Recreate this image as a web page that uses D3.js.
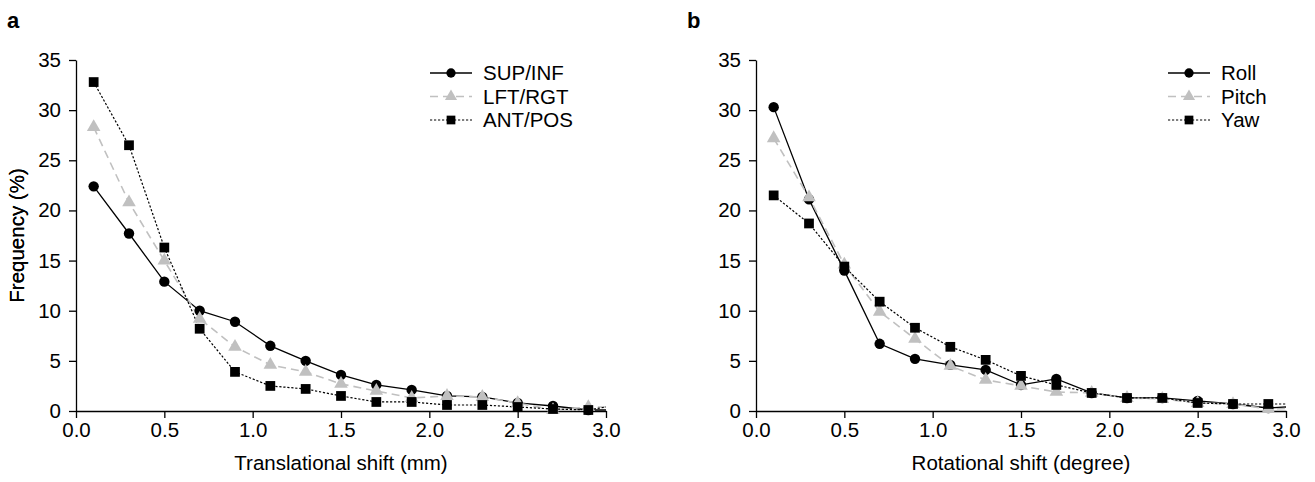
<!DOCTYPE html>
<html>
<head>
<meta charset="utf-8">
<script src="https://cdn.jsdelivr.net/npm/d3@7"></script>
<style>
  body { margin: 0; background: #fff; }
  svg { font-family: "Liberation Sans", Arial, sans-serif; }
</style>
</head>
<body>
<div id="chart"></div>
<script>
// x positions of the bins (the last one lies past the axis end and is clipped)
const shifts = [0.1, 0.3, 0.5, 0.7, 0.9, 1.1, 1.3, 1.5, 1.7, 1.9, 2.1, 2.3, 2.5, 2.7, 2.9, 3.1];
const xTicks = [0, 0.5, 1, 1.5, 2, 2.5, 3];
const yTicks = [0, 5, 10, 15, 20, 25, 30, 35];

// panel a: translational
const supInf = [22.4, 17.7, 12.9, 10.0, 8.9, 6.5, 5.0, 3.6, 2.6, 2.1, 1.5, 1.4, 0.8, 0.5, 0.1, 0.1];
const lftRgt = [28.3, 20.8, 15.0, 9.2, 6.4, 4.6, 3.9, 2.7, 2.0, 1.3, 1.5, 1.4, 0.8, 0.1, 0.4, 0.4];
const antPos = [32.8, 26.5, 16.3, 8.2, 3.9, 2.5, 2.2, 1.5, 0.9, 0.9, 0.6, 0.6, 0.4, 0.2, 0.1, 0.7];

// panel b: rotational
const roll  = [30.3, 21.1, 14.0, 6.7, 5.2, 4.6, 4.1, 2.6, 3.2, 1.8, 1.3, 1.3, 1.0, 0.7, 0.3, 0.5];
const pitch = [27.2, 21.3, 14.6, 9.9, 7.2, 4.5, 3.1, 2.5, 1.9, 1.8, 1.3, 1.2, 0.8, 0.7, 0.2, 0.3];
const yaw   = [21.5, 18.7, 14.4, 10.9, 8.3, 6.4, 5.1, 3.5, 2.6, 1.8, 1.3, 1.3, 0.8, 0.7, 0.7, 0.7];

const styles = [
    {stroke: "#000", dash: null, width: 1.3, symbol: d3.symbolCircle, size: 85, fill: "#000"},
    {stroke: "#c0c0c0", dash: "8,5", width: 1.6, symbol: d3.symbolTriangle, size: 80, fill: "#c0c0c0"},
    {stroke: "#000", dash: "2.2,1.8", width: 1.2, symbol: d3.symbolSquare, size: 95, fill: "#000"}
];

const fontSize = "20.5px";
const W = 1315, H = 482;
const svg = d3.select("#chart").append("svg")
    .attr("width", W).attr("height", H);

function drawPanel(opt) {
    const width = 530, height = 351;
    const g = svg.append("g")
        .attr("transform", `translate(${opt.left},60)`);

    const x = d3.scaleLinear().domain([0, 3]).range([0, width]);
    const y = d3.scaleLinear().domain([0, 35]).range([height, 0]);

    const xAxis = g.append("g")
        .attr("transform", `translate(0,${height})`)
        .call(d3.axisBottom(x).tickValues(xTicks).tickFormat(d3.format(".1f")).tickSize(7).tickSizeOuter(0).tickPadding(4));
    const yAxis = g.append("g")
        .call(d3.axisLeft(y).tickValues(yTicks).tickSize(7).tickSizeOuter(0).tickPadding(8));
    [xAxis, yAxis].forEach(a => {
        a.selectAll("text").style("font-size", fontSize).attr("fill", "#000");
        a.selectAll("line, path").attr("stroke", "#000").attr("stroke-width", 1.3);
        a.attr("font-family", null);
    });

    g.append("text")
        .attr("x", width / 2).attr("y", height + 59)
        .attr("text-anchor", "middle")
        .style("font-size", fontSize)
        .text(opt.xTitle);
    g.append("text")
        .attr("transform", `translate(${-opt.left + 24},${height / 2}) rotate(-90)`)
        .attr("text-anchor", "middle")
        .style("font-size", fontSize)
        .text("Frequency (%)");

    svg.append("text")
        .attr("x", opt.left - 69).attr("y", 28)
        .style("font-size", "22px").style("font-weight", "bold")
        .text(opt.label);

    const clipId = "clip" + opt.label;
    g.append("clipPath").attr("id", clipId)
        .append("rect").attr("x", -20).attr("y", -20).attr("width", width + 20).attr("height", height + 40);
    const plot = g.append("g").attr("clip-path", `url(#${clipId})`);

    const line = d3.line().x((d, i) => x(shifts[i])).y(d => y(d));

    opt.series.forEach((s, k) => {
        const st = styles[k];
        plot.append("path")
            .datum(s.values)
            .attr("fill", "none")
            .attr("stroke", st.stroke)
            .attr("stroke-width", st.width)
            .attr("stroke-dasharray", st.dash)
            .attr("d", line);
    });
    opt.series.forEach((s, k) => {
        const st = styles[k];
        plot.selectAll(null)
            .data(s.values)
            .join("path")
            .attr("transform", (d, i) => `translate(${x(shifts[i])},${y(d)})`)
            .attr("d", d3.symbol().type(st.symbol).size(st.size))
            .attr("fill", st.fill);
    });

    // legend
    const lg = g.append("g").attr("transform", `translate(${opt.legendX},13)`);
    opt.series.forEach((s, k) => {
        const st = styles[k];
        const row = lg.append("g").attr("transform", `translate(0,${k * 23.5})`);
        row.append("line")
            .attr("x1", 0).attr("x2", 42)
            .attr("stroke", st.stroke).attr("stroke-width", st.width)
            .attr("stroke-dasharray", st.dash);
        row.append("path")
            .attr("transform", "translate(21,0)")
            .attr("d", d3.symbol().type(st.symbol).size(st.size * 0.8))
            .attr("fill", st.fill);
        row.append("text")
            .attr("x", 53).attr("dy", "0.35em")
            .style("font-size", fontSize)
            .text(s.name);
    });
}

drawPanel({
    label: "a", left: 76, legendX: 354, xTitle: "Translational shift (mm)",
    series: [
        {name: "SUP/INF", values: supInf},
        {name: "LFT/RGT", values: lftRgt},
        {name: "ANT/POS", values: antPos}
    ]
});
drawPanel({
    label: "b", left: 756, legendX: 412, xTitle: "Rotational shift (degree)",
    series: [
        {name: "Roll", values: roll},
        {name: "Pitch", values: pitch},
        {name: "Yaw", values: yaw}
    ]
});
</script>
</body>
</html>
